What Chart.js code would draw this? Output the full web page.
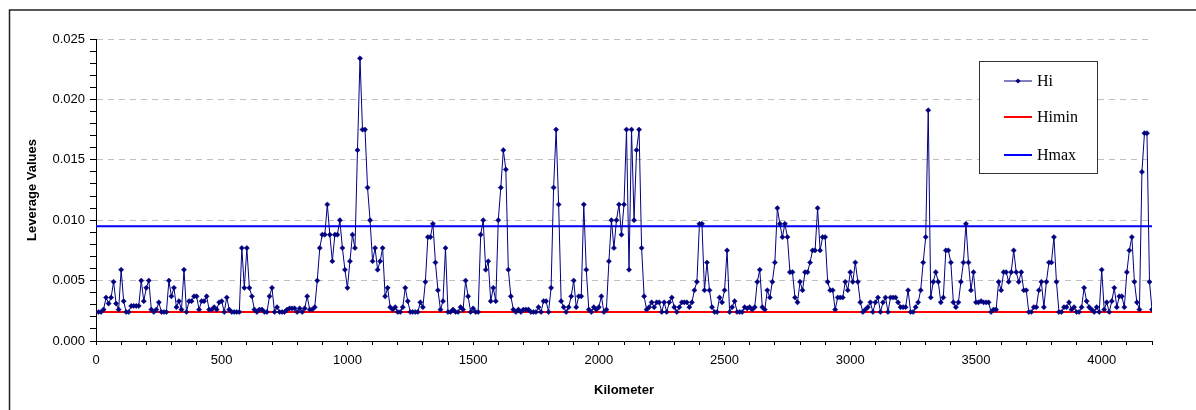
<!DOCTYPE html>
<html lang="en">
<head>
<meta charset="UTF-8">
<title>Leverage Values</title>
<script src="https://cdn.jsdelivr.net/npm/chart.js"></script>
<style>
  html, body { margin: 0; padding: 0; background: #fff; }
  #wrap { position: relative; width: 1196px; height: 410px; }
</style>
</head>
<body>
<div id="wrap"><canvas id="grafico"></canvas></div>
<script>
// kilometre of each road section
const km = [
  10, 20, 30, 40, 50, 60, 70, 80, 90, 100,
  110, 120, 130, 140, 150, 160, 170, 180, 190, 200,
  210, 220, 230, 240, 250, 260, 270, 280, 290, 300,
  310, 320, 330, 340, 350, 360, 370, 380, 390, 400,
  410, 420, 430, 440, 450, 460, 470, 480, 490, 500,
  510, 520, 530, 540, 550, 560, 570, 580, 590, 600,
  610, 620, 630, 640, 650, 660, 670, 680, 690, 700,
  710, 720, 730, 740, 750, 760, 770, 780, 790, 800,
  810, 820, 830, 840, 850, 860, 870, 880, 890, 900,
  910, 920, 930, 940, 950, 960, 970, 980, 990, 1000,
  1010, 1020, 1030, 1040, 1050, 1060, 1070, 1080, 1090, 1100,
  1110, 1120, 1130, 1140, 1150, 1160, 1170, 1180, 1190, 1200,
  1210, 1220, 1230, 1240, 1250, 1260, 1270, 1280, 1290, 1300,
  1310, 1320, 1330, 1340, 1350, 1360, 1370, 1380, 1390, 1400,
  1410, 1420, 1430, 1440, 1450, 1460, 1470, 1480, 1490, 1500,
  1510, 1520, 1530, 1540, 1550, 1560, 1570, 1580, 1590, 1600,
  1610, 1620, 1630, 1640, 1650, 1660, 1670, 1680, 1690, 1700,
  1710, 1720, 1730, 1740, 1750, 1760, 1770, 1780, 1790, 1800,
  1810, 1820, 1830, 1840, 1850, 1860, 1870, 1880, 1890, 1900,
  1910, 1920, 1930, 1940, 1950, 1960, 1970, 1980, 1990, 2000,
  2010, 2020, 2030, 2040, 2050, 2060, 2070, 2080, 2090, 2100,
  2110, 2120, 2130, 2140, 2150, 2160, 2170, 2180, 2190, 2200,
  2210, 2220, 2230, 2240, 2250, 2260, 2270, 2280, 2290, 2300,
  2310, 2320, 2330, 2340, 2350, 2360, 2370, 2380, 2390, 2400,
  2410, 2420, 2430, 2440, 2450, 2460, 2470, 2480, 2490, 2500,
  2510, 2520, 2530, 2540, 2550, 2560, 2570, 2580, 2590, 2600,
  2610, 2620, 2630, 2640, 2650, 2660, 2670, 2680, 2690, 2700,
  2710, 2720, 2730, 2740, 2750, 2760, 2770, 2780, 2790, 2800,
  2810, 2820, 2830, 2840, 2850, 2860, 2870, 2880, 2890, 2900,
  2910, 2920, 2930, 2940, 2950, 2960, 2970, 2980, 2990, 3000,
  3010, 3020, 3030, 3040, 3050, 3060, 3070, 3080, 3090, 3100,
  3110, 3120, 3130, 3140, 3150, 3160, 3170, 3180, 3190, 3200,
  3210, 3220, 3230, 3240, 3250, 3260, 3270, 3280, 3290, 3300,
  3310, 3320, 3330, 3340, 3350, 3360, 3370, 3380, 3390, 3400,
  3410, 3420, 3430, 3440, 3450, 3460, 3470, 3480, 3490, 3500,
  3510, 3520, 3530, 3540, 3550, 3560, 3570, 3580, 3590, 3600,
  3610, 3620, 3630, 3640, 3650, 3660, 3670, 3680, 3690, 3700,
  3710, 3720, 3730, 3740, 3750, 3760, 3770, 3780, 3790, 3800,
  3810, 3820, 3830, 3840, 3850, 3860, 3870, 3880, 3890, 3900,
  3910, 3920, 3930, 3940, 3950, 3960, 3970, 3980, 3990, 4000,
  4010, 4020, 4030, 4040, 4050, 4060, 4070, 4080, 4090, 4100,
  4110, 4120, 4130, 4140, 4150, 4160, 4170, 4180, 4190, 4200
];

// leverage value Hi of each section
const hi = [
  .0024, .0024, .0026, .0036, .0031, .0036, .0049, .0031, .0026, .0059,
  .0033, .0024, .0024, .0029, .0029, .0029, .0029, .0050, .0033, .0044,
  .0050, .0026, .0024, .0026, .0032, .0024, .0024, .0024, .0050, .0037,
  .0044, .0028, .0033, .0026, .0059, .0024, .0033, .0033, .0037, .0037,
  .0026, .0033, .0033, .0037, .0026, .0026, .0028, .0026, .0032, .0033,
  .0024, .0036, .0026, .0024, .0024, .0024, .0024, .0077, .0044, .0077,
  .0044, .0037, .0026, .0024, .0026, .0026, .0024, .0024, .0037, .0044,
  .0024, .0028, .0024, .0024, .0024, .0026, .0027, .0027, .0027, .0024,
  .0027, .0024, .0027, .0037, .0026, .0026, .0028, .0050, .0077, .0088,
  .0088, .0113, .0088, .0066, .0088, .0088, .0100, .0077, .0059, .0044,
  .0066, .0088, .0077, .0158, .0234, .0175, .0175, .0127, .0100, .0066,
  .0077, .0059, .0066, .0077, .0037, .0044, .0028, .0026, .0028, .0024,
  .0024, .0028, .0044, .0033, .0024, .0024, .0024, .0024, .0032, .0028,
  .0049, .0086, .0086, .0097, .0065, .0042, .0026, .0033, .0077, .0024,
  .0024, .0026, .0024, .0024, .0028, .0026, .0050, .0037, .0024, .0027,
  .0024, .0024, .0088, .0100, .0059, .0066, .0033, .0044, .0033, .0100,
  .0127, .0158, .0142, .0059, .0037, .0026, .0024, .0026, .0024, .0026,
  .0026, .0026, .0024, .0024, .0024, .0028, .0024, .0033, .0033, .0024,
  .0044, .0127, .0175, .0113, .0033, .0028, .0024, .0028, .0037, .0050,
  .0028, .0037, .0037, .0113, .0059, .0026, .0024, .0028, .0026, .0028,
  .0037, .0024, .0026, .0066, .0100, .0077, .0100, .0113, .0088, .0113,
  .0175, .0059, .0175, .0100, .0158, .0175, .0077, .0037, .0026, .0028,
  .0032, .0028, .0032, .0032, .0024, .0032, .0024, .0032, .0036, .0028,
  .0024, .0028, .0032, .0032, .0032, .0028, .0032, .0042, .0049, .0097,
  .0097, .0042, .0065, .0042, .0028, .0024, .0024, .0036, .0032, .0042,
  .0075, .0024, .0028, .0033, .0024, .0024, .0024, .0028, .0027, .0028,
  .0026, .0028, .0049, .0059, .0028, .0026, .0042, .0036, .0049, .0065,
  .0110, .0097, .0086, .0097, .0086, .0057, .0057, .0036, .0032, .0049,
  .0042, .0057, .0057, .0065, .0075, .0075, .0110, .0075, .0086, .0086,
  .0049, .0042, .0042, .0026, .0036, .0036, .0036, .0049, .0042, .0057,
  .0049, .0065, .0049, .0032, .0024, .0026, .0028, .0032, .0024, .0032,
  .0036, .0024, .0032, .0036, .0024, .0036, .0036, .0036, .0032, .0028,
  .0028, .0028, .0042, .0024, .0024, .0028, .0032, .0042, .0065, .0086,
  .0191, .0036, .0049, .0057, .0049, .0032, .0036, .0075, .0075, .0065,
  .0032, .0028, .0032, .0049, .0065, .0097, .0065, .0042, .0057, .0032,
  .0032, .0033, .0032, .0032, .0032, .0024, .0026, .0026, .0049, .0042,
  .0057, .0057, .0049, .0057, .0075, .0057, .0049, .0057, .0042, .0042,
  .0024, .0024, .0028, .0028, .0042, .0049, .0028, .0049, .0065, .0065,
  .0086, .0049, .0024, .0024, .0028, .0028, .0032, .0026, .0028, .0024,
  .0024, .0028, .0044, .0033, .0028, .0026, .0024, .0028, .0024, .0059,
  .0026, .0032, .0024, .0033, .0044, .0028, .0037, .0037, .0028, .0057,
  .0075, .0086, .0049, .0032, .0026, .0140, .0172, .0172, .0049, .0026
];

const hMin = 0.0024;
const hMax = 0.0095;
const kmEnds = [0, 4200];
const seriesNames = ['Hi', 'Himin', 'Hmax'];
const seriesColors = ['#000080', '#ff0000', '#0000ff'];

// frame of the chart object (only left and top edge are visible)
const marco = {
  id: 'marco',
  beforeDraw(chart) {
    const c = chart.ctx;
    c.save();
    c.strokeStyle = '#222';
    c.lineWidth = 1.5;
    c.beginPath();
    c.moveTo(9.5, 410);
    c.lineTo(9.5, 10);
    c.lineTo(1196, 10);
    c.stroke();
    c.restore();
  }
};

// boxed legend inside the plot, Excel style
const leyenda = {
  id: 'leyenda',
  afterDraw(chart) {
    const c = chart.ctx;
    const bx = 979.5, by = 61.5, bw = 118, bh = 112;
    c.save();
    c.fillStyle = '#fff';
    c.fillRect(bx, by, bw, bh);
    c.strokeStyle = '#333';
    c.lineWidth = 1;
    c.strokeRect(bx, by, bw, bh);
    const rows = [81, 117, 155];
    c.font = '16px "Liberation Serif", "Times New Roman", serif';
    c.textBaseline = 'middle';
    c.textAlign = 'left';
    seriesNames.forEach((name, i) => {
      const y = rows[i];
      c.strokeStyle = seriesColors[i];
      c.lineWidth = i === 0 ? 1 : 2;
      c.beginPath();
      c.moveTo(1004, y);
      c.lineTo(1032, y);
      c.stroke();
      if (i === 0) {
        c.fillStyle = seriesColors[0];
        c.beginPath();
        c.moveTo(1018, y - 2.6);
        c.lineTo(1020.6, y);
        c.lineTo(1018, y + 2.6);
        c.lineTo(1015.4, y);
        c.closePath();
        c.fill();
      }
      c.fillStyle = '#000';
      c.fillText(name, 1037, y + 1);
    });
    c.restore();
  }
};

const puntos = km.map((k, i) => ({ x: k, y: hi[i] }));
const lineaMin = kmEnds.map(k => ({ x: k, y: hMin }));
const lineaMax = kmEnds.map(k => ({ x: k, y: hMax }));

const fuente = { family: 'Arial, "Liberation Sans", sans-serif', size: 13 };

new Chart(document.getElementById('grafico'), {
  type: 'line',
  data: {
    datasets: [
      {
        label: seriesNames[0],
        data: puntos,
        borderColor: seriesColors[0],
        backgroundColor: seriesColors[0],
        borderWidth: 1,
        pointStyle: 'rectRot',
        pointRadius: 2.6,
        pointBorderWidth: 0.5,
        tension: 0
      },
      {
        label: seriesNames[1],
        data: lineaMin,
        borderColor: seriesColors[1],
        borderWidth: 2,
        pointRadius: 0
      },
      {
        label: seriesNames[2],
        data: lineaMax,
        borderColor: seriesColors[2],
        borderWidth: 2,
        pointRadius: 0
      }
    ]
  },
  options: {
    responsive: true,
    maintainAspectRatio: false,
    animation: false,
    devicePixelRatio: 1,
    layout: { padding: { top: 39, right: 44, left: 0, bottom: 0 } },
    plugins: {
      legend: { display: false },
      tooltip: { enabled: false }
    },
    scales: {
      x: {
        type: 'linear',
        min: 0,
        max: 4200,
        afterFit: s => { s.height = 69; },
        ticks: {
          stepSize: 100,
          autoSkip: false,
          maxRotation: 0,
          padding: 8,
          color: '#000',
          font: fuente,
          callback: v => (v % 500 === 0 ? String(v) : '')
        },
        grid: {
          drawOnChartArea: false,
          tickLength: 4,
          tickColor: '#000',
          tickBorderDash: []
        },
        border: { color: '#000', width: 1 },
        title: {
          display: true,
          text: 'Kilometer',
          color: '#000',
          font: { family: fuente.family, size: 13, weight: 'bold' },
          padding: { top: 0, bottom: 12 }
        }
      },
      y: {
        min: 0,
        max: 0.025,
        afterFit: s => { s.width = 96; },
        ticks: {
          stepSize: 0.001,
          autoSkip: false,
          padding: 5,
          color: '#000',
          font: fuente,
          callback: v => {
            const r = Math.round(v * 1000);
            return r % 5 === 0 ? (r / 1000).toFixed(3) : '';
          }
        },
        grid: {
          color: ctx => (Math.round(ctx.tick.value * 1000) % 5 === 0 ? '#c0c0c0' : 'rgba(0,0,0,0)'),
          lineWidth: 1,
          tickLength: 6,
          tickColor: '#000',
          tickBorderDash: []
        },
        border: { color: '#000', width: 1, dash: [6, 5] },
        title: {
          display: true,
          text: 'Leverage Values',
          color: '#000',
          font: { family: fuente.family, size: 13, weight: 'bold' },
          padding: { top: 25, bottom: 0 }
        }
      }
    }
  },
  plugins: [marco, leyenda]
});
</script>
</body>
</html>
